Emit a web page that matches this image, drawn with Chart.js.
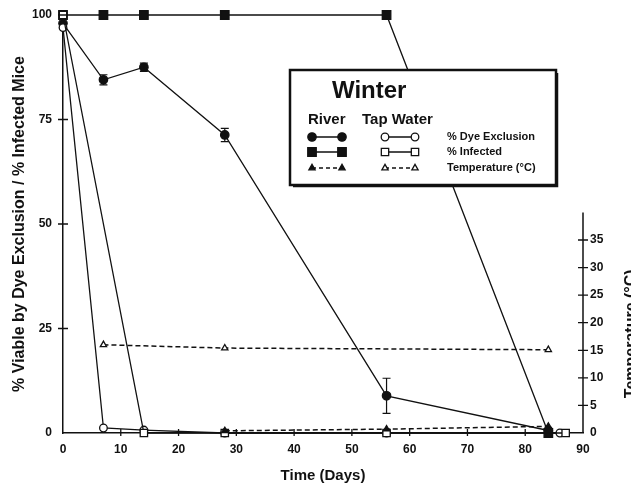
<!doctype html>
<html lang="en">
<head>
    <meta charset="utf-8">
    <title>Winter - River vs Tap Water</title>
    <script src="https://cdn.jsdelivr.net/npm/chart.js"></script>
    <style>
        html, body { margin:0; padding:0; background:#fff; }
        #wrap { width:631px; height:487px; position:relative; }
    </style>
    <script>
        // values
        const dayTicks  = [0, 10, 20, 30, 40, 50, 60, 70, 80, 90];
        const pctTicks  = [0, 25, 50, 75, 100];
        const tempTicks = [0, 5, 10, 15, 20, 25, 30, 35];

        const riverDyeDays = [0, 7, 14, 28, 56, 84];
        const riverDye     = [98, 84.5, 87.5, 71.3, 8.9, 0.6];
        const riverDyeErr  = [0, 1.2, 1.0, 1.6, 4.2, 0];

        const riverInfDays = [0, 7, 14, 28, 56, 84];
        const riverInf     = [100, 100, 100, 100, 100, 0];

        const tapDyeDays = [0, 7, 14, 28, 56, 86];
        const tapDye     = [97, 1.2, 0.7, 0, 0, 0];

        const tapInfDays = [0, 14, 28, 56, 87];
        const tapInf     = [100, 0, 0, 0, 0];

        const riverTempDays = [28, 56, 84];
        const riverTemp     = [0.4, 0.7, 1.2];

        const tapTempDays = [7, 28, 84];
        const tapTemp     = [16, 15.4, 15.1];

        const legendRows = [
            { label:'% Dye Exclusion',  style:'circle',   rRiver:4.2, rTap:3.8, dash:[] },
            { label:'% Infected',       style:'rect',     rRiver:6,   rTap:5.2, dash:[] },
            { label:'Temperature (°C)', style:'triangle', rRiver:3.6, rTap:3.6, dash:[4,3] },
        ];
    </script>
    <script>
        const INK = '#111';
        const FONT = "'Liberation Sans', Arial, sans-serif";
        const pts = (xs, ys) => xs.map((x, i) => ({ x: x, y: ys[i] }));

        const winterDecor = {
            id: 'winterDecor',
            afterDatasetsDraw(chart) {
                const { ctx } = chart;
                const { x, y, y2 } = chart.scales;
                ctx.save();
                ctx.strokeStyle = INK;
                ctx.fillStyle = INK;

                // error bars (river dye exclusion)
                ctx.lineWidth = 1.2;
                riverDyeDays.forEach((d, i) => {
                    const e = riverDyeErr[i];
                    if (!e) return;
                    const px = x.getPixelForValue(d);
                    const top = y.getPixelForValue(riverDye[i] + e);
                    const bot = y.getPixelForValue(riverDye[i] - e);
                    ctx.beginPath();
                    ctx.moveTo(px, top); ctx.lineTo(px, bot);
                    ctx.moveTo(px - 4, top); ctx.lineTo(px + 4, top);
                    ctx.moveTo(px - 4, bot); ctx.lineTo(px + 4, bot);
                    ctx.stroke();
                });

                // crossing tick marks
                ctx.lineWidth = 1.3;
                const y0 = y.getPixelForValue(0);
                ctx.beginPath();
                dayTicks.forEach(v => {
                    if (v === 0 || v === 90) return;
                    const px = x.getPixelForValue(v);
                    ctx.moveTo(px, y0 - 4); ctx.lineTo(px, y0 + 3);
                });
                const xl = x.getPixelForValue(0);
                pctTicks.forEach(v => {
                    if (v === 0) return;
                    const py = y.getPixelForValue(v);
                    ctx.moveTo(xl - 5, py); ctx.lineTo(xl + 5, py);
                });
                const xr = x.getPixelForValue(90);
                tempTicks.forEach(v => {
                    if (v === 0) return;
                    const py = y2.getPixelForValue(v);
                    ctx.moveTo(xr - 5, py); ctx.lineTo(xr + 5, py);
                });
                ctx.stroke();

                // right axis line only up to 40 degrees
                ctx.lineWidth = 1.5;
                ctx.beginPath();
                ctx.moveTo(xr, y2.getPixelForValue(0));
                ctx.lineTo(xr, y2.getPixelForValue(40));
                ctx.stroke();

                // right axis title, reading upward, clipped by the edge
                ctx.save();
                ctx.translate(632, y2.getPixelForValue(18));
                ctx.rotate(-Math.PI / 2);
                ctx.font = 'bold 16px ' + FONT;
                ctx.textAlign = 'center';
                ctx.textBaseline = 'middle';
                ctx.fillText('Temperature (°C)', 0, 0);
                ctx.restore();

                // legend box
                const bx = 290, by = 70, bw = 266, bh = 115;
                ctx.fillStyle = '#fff';
                ctx.fillRect(bx, by, bw, bh);
                ctx.lineWidth = 2.5;
                ctx.strokeRect(bx, by, bw, bh);
                ctx.lineWidth = 1.5;
                ctx.beginPath();
                ctx.moveTo(bx + 3, by + bh + 1.5); ctx.lineTo(bx + bw + 1.5, by + bh + 1.5); ctx.lineTo(bx + bw + 1.5, by + 3);
                ctx.stroke();

                ctx.fillStyle = INK;
                ctx.textBaseline = 'alphabetic';
                ctx.textAlign = 'left';
                ctx.font = 'bold 24px ' + FONT;
                ctx.fillText('Winter', 332, 98);
                ctx.font = 'bold 15px ' + FONT;
                ctx.fillText('River', 308, 124);
                ctx.fillText('Tap Water', 362, 124);

                const rowY = [137, 152, 168];
                legendRows.forEach((row, i) => {
                    const ry = rowY[i];
                    ctx.lineWidth = 1.3;
                    ctx.strokeStyle = INK;
                    ctx.setLineDash(row.dash);
                    ctx.beginPath();
                    ctx.moveTo(312, ry); ctx.lineTo(342, ry);
                    ctx.moveTo(385, ry); ctx.lineTo(415, ry);
                    ctx.stroke();
                    ctx.setLineDash([]);
                    [[312, true], [342, true], [385, false], [415, false]].forEach(([mx, filled]) => {
                        ctx.fillStyle = filled ? INK : '#fff';
                        ctx.strokeStyle = INK;
                        Chart.helpers.drawPoint(ctx, {
                            pointStyle: row.style,
                            radius: filled ? row.rRiver : row.rTap,
                            rotation: 0,
                            borderWidth: 1.3
                        }, mx, ry);
                    });
                    ctx.fillStyle = INK;
                    ctx.font = 'bold 11px ' + FONT;
                    ctx.textBaseline = 'middle';
                    ctx.fillText(row.label, 447, ry);
                    ctx.textBaseline = 'alphabetic';
                });

                ctx.restore();
            }
        };

        function series(label, xs, ys, style, filled, r, axis, dash) {
            return {
                label: label,
                data: pts(xs, ys),
                yAxisID: axis,
                showLine: true,
                clip: false,
                borderColor: INK,
                borderWidth: dash ? 1.5 : 1.3,
                borderDash: dash || [],
                pointStyle: style,
                pointRadius: r,
                pointHoverRadius: r,
                pointBackgroundColor: filled ? INK : '#fff',
                pointBorderColor: INK,
                pointBorderWidth: 1.3,
            };
        }

        window.addEventListener('load', () => {
            const ctx = document.querySelector('#chart-0');
            const tickFont = { family: FONT, size: 12, weight: 'bold' };
            new Chart(ctx, {
                type: 'scatter',
                data: {
                    datasets: [
                        series('River temperature', riverTempDays, riverTemp, 'triangle', true, 3.6, 'y2', [5, 3]),
                        series('Tap temperature', tapTempDays, tapTemp, 'triangle', false, 3.6, 'y2', [5, 3]),
                        series('Tap % infected', tapInfDays, tapInf, 'rect', false, 5.2, 'y'),
                        series('Tap % dye exclusion', tapDyeDays, tapDye, 'circle', false, 3.8, 'y'),
                        series('River % infected', riverInfDays, riverInf, 'rect', true, 6, 'y'),
                        series('River % dye exclusion', riverDyeDays, riverDye, 'circle', true, 4.2, 'y'),
                    ]
                },
                options: {
                    responsive: true,
                    maintainAspectRatio: false,
                    animation: false,
                    layout: { padding: { top: 15, left: 0, right: 0, bottom: 0 } },
                    plugins: {
                        legend: { display: false },
                        tooltip: { enabled: false },
                    },
                    scales: {
                        x: {
                            type: 'linear', min: 0, max: 90,
                            afterBuildTicks: (s) => { s.ticks = dayTicks.map(v => ({ value: v })); },
                            afterFit: (s) => { s.height = 54; s.paddingLeft = 0; s.paddingRight = 0; },
                            grid: { display: false, drawTicks: false },
                            border: { display: true, color: INK, width: 1.5 },
                            ticks: { font: tickFont, color: INK, padding: 9, maxRotation: 0, autoSkip: false },
                            title: {
                                display: true, text: 'Time (Days)', color: INK,
                                font: { family: FONT, size: 15, weight: 'bold', lineHeight: 1.2 },
                                padding: { top: 0, bottom: 2 }
                            }
                        },
                        y: {
                            position: 'left', min: 0, max: 100,
                            afterBuildTicks: (s) => { s.ticks = pctTicks.map(v => ({ value: v })); },
                            afterFit: (s) => { s.width = 63; s.paddingTop = 0; s.paddingBottom = 0; },
                            grid: { display: false, drawTicks: false },
                            border: { display: true, color: INK, width: 1.5 },
                            ticks: { font: tickFont, color: INK, padding: 11 },
                            title: {
                                display: true, text: '% Viable by Dye Exclusion / % Infected Mice', color: INK,
                                font: { family: FONT, size: 16, weight: 'bold', lineHeight: 1.2 },
                                padding: { top: 10, bottom: 0 }
                            }
                        },
                        y2: {
                            position: 'right', min: 0, max: 75.8,
                            afterBuildTicks: (s) => { s.ticks = tempTicks.map(v => ({ value: v })); },
                            afterFit: (s) => { s.width = 48; s.paddingTop = 0; s.paddingBottom = 0; },
                            grid: { display: false, drawTicks: false },
                            border: { display: false },
                            ticks: { font: tickFont, color: INK, padding: 7 },
                        }
                    }
                },
                plugins: [winterDecor]
            });
        });
    </script>
</head>
<body>
    <div id="wrap"><canvas id="chart-0"></canvas></div>
</body>
</html>
